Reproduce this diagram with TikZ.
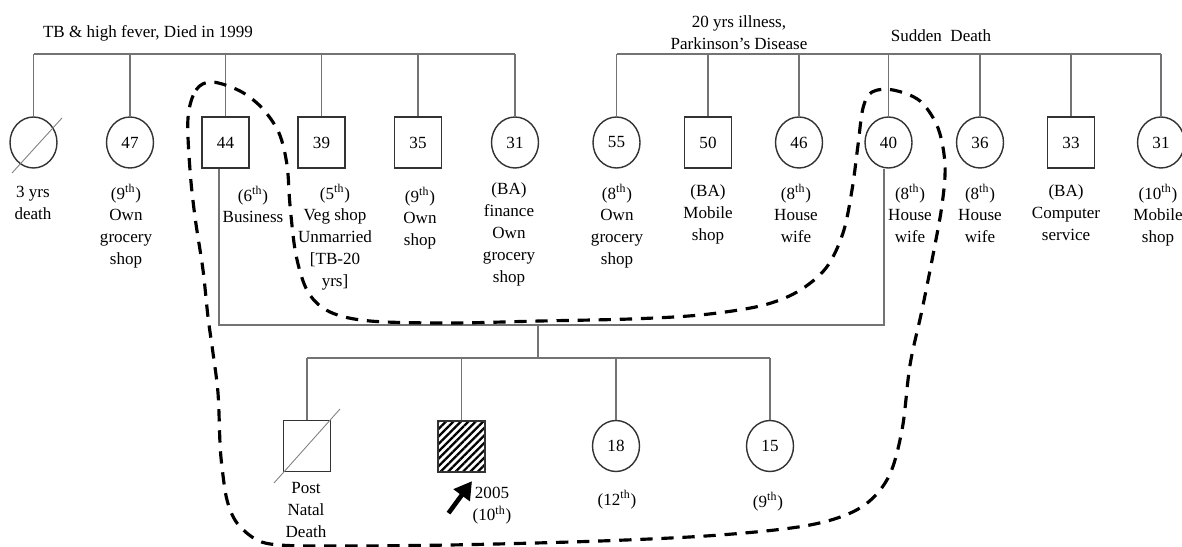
\documentclass[tikz,border=0pt]{standalone}
\usepackage{fontspec}
\setmainfont{Liberation Serif}
\usetikzlibrary{shapes.geometric,calc,arrows.meta,patterns.meta}

\newcommand{\ordth}[1]{(#1\textsuperscript{th})}

\begin{document}
\begin{tikzpicture}[x=0.02cm,y=-0.02cm,
    font=\fontsize{9.7pt}{12.5pt}\selectfont,
    female/.style={ellipse,draw=black!80,line width=0.8pt,minimum width=0.94cm,minimum height=1.02cm,inner sep=0pt},
    male/.style={rectangle,draw=black!80,line width=0.8pt,minimum width=0.94cm,minimum height=1.02cm,inner sep=0pt},
    link/.style={draw=black!55,line width=0.6pt},
    dead/.style={draw=black!50,line width=0.5pt},
    lbl/.style={align=center,anchor=north,inner sep=0pt},
    proband/.style={-{Triangle[length=10pt,width=11pt]},line width=2.6pt},
    cluster/.style={line width=1.8pt,dash pattern=on 7pt off 5pt}]
    \useasboundingbox (0,0) rectangle (1182,547);

    %father's side
    \node[female] (g1) at (33.5,142.5) {};
    \node[female] (g2) at (130,142.5) {47};
    \node[male] (g3) at (225.5,142.5) {44};
    \node[male] (g4) at (321.5,142.5) {39};
    \node[male] (g5) at (418,142.5) {35};
    \node[female] (g6) at (515,142.5) {31};

    %mother's side
    \node[female] (m1) at (616.5,142.5) {55};
    \node[male] (m2) at (708,142.5) {50};
    \node[female] (m3) at (799,142.5) {46};
    \node[female] (m4) at (888.5,142.5) {40};
    \node[female] (m5) at (980,142.5) {36};
    \node[male] (m6) at (1071,142.5) {33};
    \node[female] (m7) at (1161,142.5) {31};

    %children
    \node[male] (c1) at (307,446) {};
    \node[male,pattern={Lines[angle=45,distance=3pt,line width=1.3pt]}] (c2) at (461.5,446.5) {};
    \node[female] (c3) at (616,446) {18};
    \node[female] (c4) at (770,446) {15};

    %sibships
    \coordinate (sib) at (0,54);
    \foreach \i in {1,...,6} \draw[link] (g\i.north) -- (g\i.north |- sib);
    \draw[link] (g1.north |- sib) -- (g6.north |- sib);
    \foreach \i in {1,...,7} \draw[link] (m\i.north) -- (m\i.north |- sib);
    \draw[link] (m1.north |- sib) -- (m7.north |- sib);

    %marriage and offspring
    \coordinate (fa) at (219,325);
    \coordinate (mo) at (884,325);
    \coordinate (mid) at (538,325);
    \coordinate (kids) at (538,358);
    \draw[link] (g3.south -| fa) -- (fa) -- (mo) -- (m4.south -| mo);
    \draw[link] (mid) -- (kids);
    \draw[link] (c1.north |- kids) -- (c4.north |- kids);
    \foreach \i in {1,...,4} \draw[link] (c\i.north) -- (c\i.north |- kids);

    %deceased
    \draw[dead] ($(g1)+(-21.5,30.5)$) -- ($(g1)+(28.5,-24.5)$);
    \draw[dead] ($(c1)+(-33,37)$) -- ($(c1)+(33,-37)$);

    %proband
    \draw[proband] ($(c2.south)+(-13,40)$) -- ($(c2.south)+(10.5,8)$);

    %notes on top
    \node at (148,33) {TB \& high fever, Died in 1999};
    \node[align=center] at (739,32.5) {20 yrs illness,\\Parkinson's Disease};
    \node at (941,36) {Sudden\enspace Death};

    %labels
    \node[lbl] at (33,186) {3 yrs\\death};
    \node[lbl] at (126,184) {\ordth{9}\\Own\\grocery\\shop};
    \node[lbl] at (253,186) {\ordth{6}\\Business};
    \node[lbl] at (335,184) {\ordth{5}\\Veg shop\\Unmarried\\{[TB-20}\\yrs]};
    \node[lbl] at (420,187) {\ordth{9}\\Own\\shop};
    \node[lbl] at (509,182) {(BA)\\finance\\Own\\grocery\\shop};
    \node[lbl] at (617,184) {\ordth{8}\\Own\\grocery\\shop};
    \node[lbl] at (708,184) {(BA)\\Mobile\\shop};
    \node[lbl] at (796,184) {\ordth{8}\\House\\wife};
    \node[lbl] at (910,184) {\ordth{8}\\House\\wife};
    \node[lbl] at (980,184) {\ordth{8}\\House\\wife};
    \node[lbl] at (1066,184) {(BA)\\Computer\\service};
    \node[lbl] at (1158,184) {\ordth{10}\\Mobile\\shop};
    \node[lbl] at (306,482) {Post\\Natal\\Death};
    \node[lbl] at (492,487) {2005\\\ordth{10}};
    \node[lbl] at (617,490) {\ordth{12}};
    \node[lbl] at (768,492) {\ordth{9}};

    %family cluster
    \draw[cluster] plot[smooth cycle,tension=0.55] coordinates {
        (188,118) (196,90) (212,82) (240,91) (262,108) (279,133) (287,165)
        (290,205) (296,255) (308,292) (330,312) (370,321) (450,323) (540,321)
        (630,319) (700,315) (760,306) (797,292) (826,268) (843,233) (852,190)
        (858,145) (863,108) (872,92) (893,90) (920,101) (938,128) (945,165)
        (942,205) (933,255) (922,310) (910,365) (902,430) (888,478) (860,508)
        (810,525) (720,535) (600,541) (450,545) (330,546) (280,545) (257,540)
        (237,523) (227,500) (222,467) (220,443) (218,393) (213,353) (208,317)
        (203,270) (195,217) (190,170)};
\end{tikzpicture}
\end{document}
